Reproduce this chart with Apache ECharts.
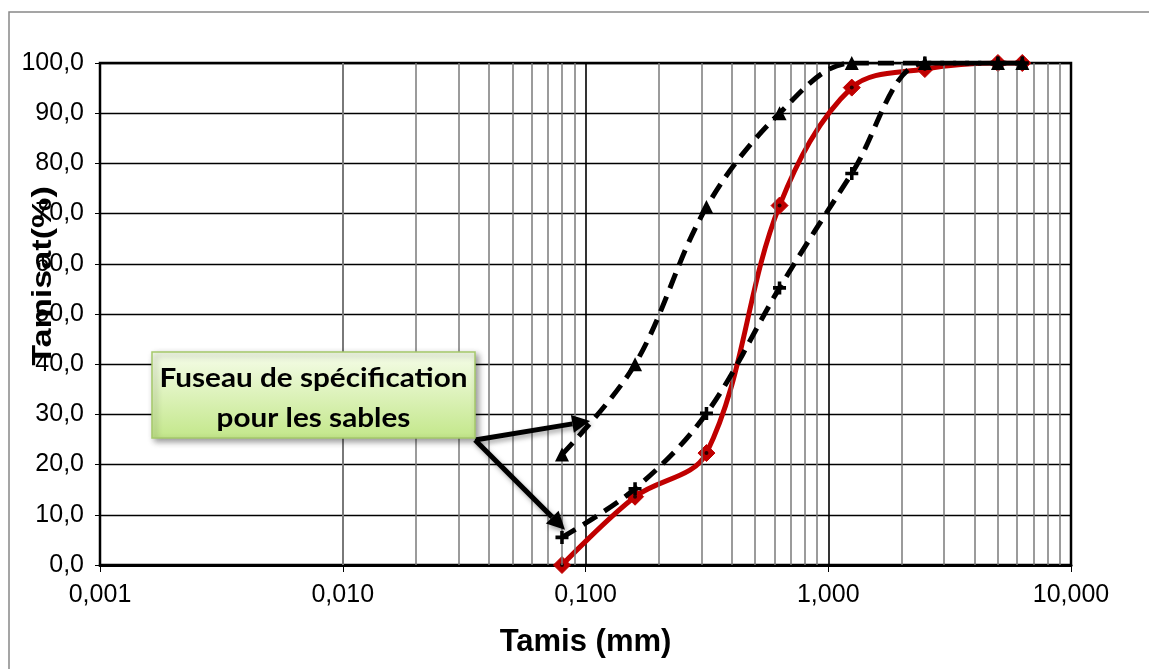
<!DOCTYPE html>
<html><head><meta charset="utf-8">
<script src="https://cdn.jsdelivr.net/npm/echarts@6/dist/echarts.min.js"></script>
<style>html,body{margin:0;padding:0;background:#fff}#c{width:1149px;height:669px}</style>
</head><body><div id="c"></div>
<script>
// ---- data ----
const sieves = [0.08, 0.16, 0.315, 0.63, 1.25, 2.5, 5, 6.3];
const sandPassing = [0, 13.6, 22.3, 71.6, 95.1, 98.8, 100, 100];
const upperLimit = [22, 40, 71.3, 90, 100, 100, 100, 100];
const lowerLimit = [5.5, 15.2, 30.2, 55.2, 78, 100, 100, 100];
const xTickLabels = ['0,001', '0,010', '0,100', '1,000', '10,000'];
const yTickLabels = ['0,0', '10,0', '20,0', '30,0', '40,0', '50,0', '60,0', '70,0', '80,0', '90,0', '100,0'];
const xTitle = 'Tamis (mm)';
const yTitle = 'Tamisat(%)';
const noteText = 'Fuseau de spécification\npour les sables';

const pairs = (ys) => sieves.map((x, i) => [x, ys[i]]);
const minorLines = [];
for (let d = -3; d < 1; d++) for (let k = 2; k <= 9; k++) minorLines.push({ xAxis: k * Math.pow(10, d) });

const chart = echarts.init(document.getElementById('c'), null, { renderer: 'canvas' });
const plusPath = 'path://M4,0h3v4h4v3h-4v4h-3v-4h-4v-3h4z';

chart.setOption({
  backgroundColor: '#fff',
  animation: false,
  grid: { left: 100, right: 78, top: 63, bottom: 104, show: true, borderColor: '#000', borderWidth: 2.5, backgroundColor: 'transparent' },
  xAxis: {
    type: 'log', logBase: 10, min: 0.001, max: 10,
    name: xTitle, nameLocation: 'middle', nameGap: 62,
    nameTextStyle: { fontFamily: 'Liberation Sans, Arial', fontWeight: 'bold', fontSize: 31, color: '#000' },
    axisLine: { show: true, lineStyle: { color: '#000', width: 3 } },
    axisTick: { show: true, length: 7, lineStyle: { color: '#000', width: 1 } },
    axisLabel: {
      margin: 18, fontFamily: 'Liberation Sans, Arial', fontSize: 25, color: '#000',
      formatter: (v) => xTickLabels[Math.round(Math.log10(v)) + 3] || ''
    },
    splitLine: { show: true, lineStyle: { color: '#000', width: 1.6 } }
  },
  yAxis: {
    type: 'value', min: 0, max: 100, interval: 10,
    axisLine: { show: true, lineStyle: { color: '#000', width: 2 } },
    axisTick: { show: true, length: 5, lineStyle: { color: '#000', width: 1 } },
    axisLabel: {
      margin: 16, fontFamily: 'Liberation Sans, Arial', fontSize: 25, color: '#000',
      formatter: (v) => yTickLabels[Math.round(v / 10)] || ''
    },
    splitLine: { show: true, lineStyle: { color: '#000', width: 1.3 } }
  },
  series: [
    {
      type: 'line', data: [], silent: true, z: 1, symbol: 'none',
      markLine: {
        silent: true, symbol: 'none', animation: false,
        label: { show: false },
        lineStyle: { color: '#7a7a7a', width: 1.5, type: 'solid' },
        data: minorLines
      }
    },
    {
      name: 'sable', type: 'line', data: pairs(sandPassing), smooth: 0.35, z: 3,
      lineStyle: { color: '#c00000', width: 5 },
      symbol: 'diamond', symbolSize: 17,
      itemStyle: { color: '#c00000', borderColor: '#c00000', borderWidth: 1 }
    },
    {
      name: 'centre', type: 'scatter', data: pairs(sandPassing), z: 4, silent: true,
      symbol: 'circle', symbolSize: 4, itemStyle: { color: '#000' }
    },
    {
      name: 'limite sup', type: 'line', data: pairs(upperLimit), smooth: 0.35, z: 5,
      lineStyle: { color: '#000', width: 5, type: [16, 9], cap: 'butt' },
      symbol: 'triangle', symbolSize: 14,
      itemStyle: { color: '#000' }
    },
    {
      name: 'limite inf', type: 'line', data: pairs(lowerLimit), smooth: 0.35, z: 5,
      lineStyle: { color: '#000', width: 5, type: [16, 9], cap: 'butt' },
      symbol: plusPath, symbolSize: 13,
      itemStyle: { color: '#000' }
    }
  ]
});

// ---- annotations ----
function arrow(p0, p1) {
  const dx = p1[0] - p0[0], dy = p1[1] - p0[1];
  const L = Math.hypot(dx, dy), ux = dx / L, uy = dy / L;
  const hl = 18, hw = 9;
  const bx = p1[0] - ux * hl, by = p1[1] - uy * hl;
  const shadow = { shadowBlur: 5, shadowColor: 'rgba(0,0,0,0.35)', shadowOffsetX: 2, shadowOffsetY: 3 };
  return [
    { type: 'line', z: 50, shape: { x1: p0[0], y1: p0[1], x2: bx, y2: by },
      style: Object.assign({ stroke: '#000', lineWidth: 5 }, shadow) },
    { type: 'polygon', z: 50, shape: { points: [[p1[0], p1[1]], [bx - uy * hw, by + ux * hw], [bx + uy * hw, by - ux * hw]] },
      style: Object.assign({ fill: '#000' }, shadow) }
  ];
}
const start = [475, 440];
const tip1 = chart.convertToPixel({ gridIndex: 0 }, [0.1045, 28.7]);
const tip2 = chart.convertToPixel({ gridIndex: 0 }, [0.0823, 7]);

chart.setOption({
  graphic: [
    { type: 'rect', z: 0, silent: true, shape: { x: 9, y: 12, width: 1300, height: 800 },
      style: { fill: 'none', stroke: '#888', lineWidth: 1.5 } },
    { type: 'text', z: 60, x: 43, y: 276, rotation: Math.PI / 2, scaleX: 1.22,
      style: { text: yTitle, font: 'bold 28px "Liberation Sans", Arial', fill: '#000', textAlign: 'center', textVerticalAlign: 'middle' } },
    ...arrow(start, tip1),
    ...arrow(start, tip2),
    { type: 'rect', z: 55, shape: { x: 152, y: 352, width: 323, height: 86 },
      style: {
        fill: { type: 'linear', x: 0, y: 0, x2: 0, y2: 1, colorStops: [{ offset: 0, color: '#f6fdea' }, { offset: 1, color: '#c3e78a' }] },
        stroke: '#a5c96b', lineWidth: 1.5,
        shadowBlur: 6, shadowColor: 'rgba(0,0,0,0.4)', shadowOffsetX: 3, shadowOffsetY: 3
      } },
    { type: 'text', z: 56, x: 313.5, y: 398, scaleX: 1.1,
      style: { text: noteText, font: 'bold 27px Lato', fill: '#000', textAlign: 'center', textVerticalAlign: 'middle', lineHeight: 40 } }
  ]
});
</script>
</body></html>
